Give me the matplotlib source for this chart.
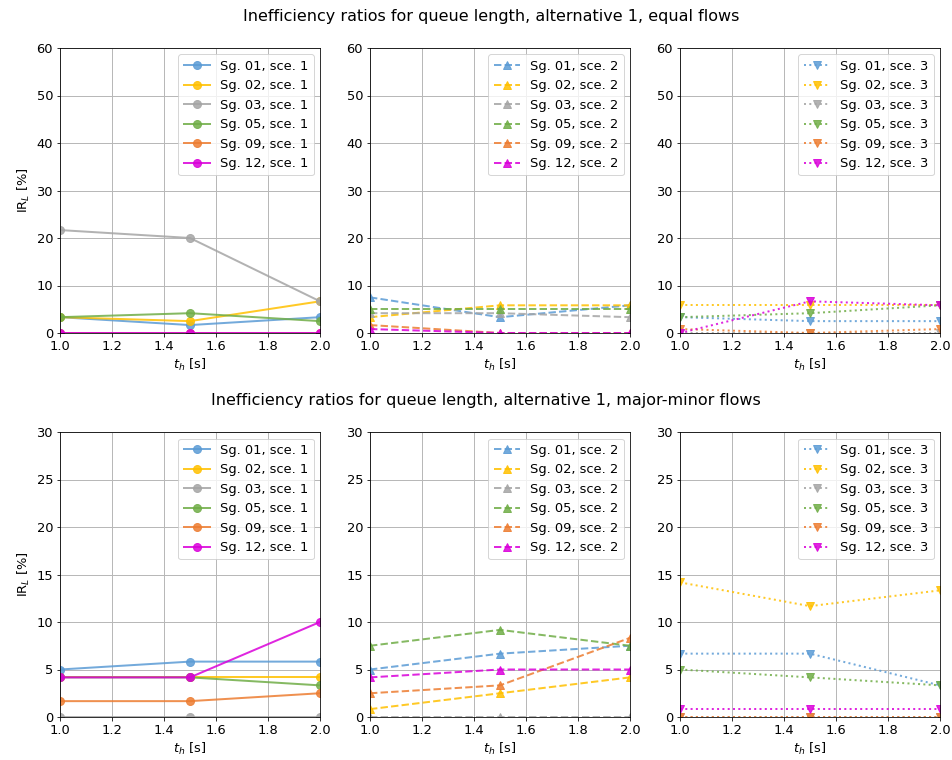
import matplotlib
matplotlib.use("Agg")
import matplotlib.pyplot as plt
import numpy as np

DPI = 72
W, H = 952, 760

th = [1.0, 1.5, 2.0]
signal_groups = ["01", "02", "03", "05", "09", "12"]
colors = ["#5B9BD5", "#FFC000", "#A5A5A5", "#70AD47", "#ED7D31", "#DA00DA"]

# equal flows, IR_L [%] per signal group (rows) at t_h = 1.0, 1.5, 2.0
equal_sce1 = [[3.33, 1.67, 3.33],
              [3.33, 2.5, 6.67],
              [21.67, 20.0, 6.67],
              [3.33, 4.17, 2.5],
              [0.0, 0.0, 0.0],
              [0.0, 0.0, 0.0]]
equal_sce2 = [[7.5, 3.33, 5.83],
              [3.33, 5.83, 5.83],
              [4.17, 4.17, 3.33],
              [5.0, 5.0, 5.0],
              [1.67, 0.0, 0.0],
              [0.83, 0.0, 0.0]]
equal_sce3 = [[3.33, 2.5, 2.5],
              [5.83, 5.83, 5.83],
              [0.0, 0.0, 0.0],
              [3.33, 4.17, 5.83],
              [0.83, 0.0, 0.83],
              [0.0, 6.67, 5.83]]

# major-minor flows
major_sce1 = [[5.0, 5.83, 5.83],
              [4.17, 4.17, 4.17],
              [0.0, 0.0, 0.0],
              [4.17, 4.17, 3.33],
              [1.67, 1.67, 2.5],
              [4.17, 4.17, 10.0]]
major_sce2 = [[5.0, 6.67, 7.5],
              [0.83, 2.5, 4.17],
              [0.0, 0.0, 0.0],
              [7.5, 9.17, 7.5],
              [2.5, 3.33, 8.33],
              [4.17, 5.0, 5.0]]
major_sce3 = [[6.67, 6.67, 3.33],
              [14.17, 11.67, 13.33],
              [0.0, 0.0, 0.0],
              [5.0, 4.17, 3.33],
              [0.0, 0.0, 0.0],
              [0.83, 0.83, 0.83]]

STYLES = {1: ("-", "o"), 2: ("--", "^"), 3: (":", "v")}

plt.rcParams["font.size"] = 13


def add_ax(fig, left, top, right, bottom):
    return fig.add_axes([left / W, 1 - bottom / H, (right - left) / W, (bottom - top) / H])


def draw(ax, data, sce, ymax, ystep, ylabel):
    ls, mk = STYLES[sce]
    for sg, c, y in zip(signal_groups, colors, data):
        ax.plot(th, y, linestyle=ls, marker=mk, color=c, lw=2, ms=8, alpha=0.85,
                label="Sg. {}, sce. {}".format(sg, sce))
    ax.set_xlim(1.0, 2.0)
    ax.set_ylim(0, ymax)
    ax.set_xticks(np.arange(1.0, 2.01, 0.2))
    ax.set_yticks(np.arange(0, ymax + 0.1, ystep))
    ax.grid(True, color="#b8b8b8", lw=1)
    ax.set_xlabel("$t_h$ [s]")
    if ylabel:
        ax.set_ylabel("IR$_L$ [%]")
    ax.legend(loc="upper right")


fig = plt.figure(figsize=(W / DPI, H / DPI), dpi=DPI)

cols = [(60, 320), (370, 630), (680, 940)]
rows = [(48, 333, 60, 10, [equal_sce1, equal_sce2, equal_sce3]),
        (432, 717, 30, 5, [major_sce1, major_sce2, major_sce3])]

for top, bottom, ymax, ystep, sets in rows:
    for i, ((l, r), data) in enumerate(zip(cols, sets)):
        ax = add_ax(fig, l, top, r, bottom)
        draw(ax, data, i + 1, ymax, ystep, i == 0)

fig.text(491 / W, 1 - 17 / H, "Inefficiency ratios for queue length, alternative 1, equal flows",
         ha="center", va="center", fontsize=16)
fig.text(486 / W, 1 - 400 / H, "Inefficiency ratios for queue length, alternative 1, major-minor flows",
         ha="center", va="center", fontsize=16)

fig.savefig("out.png", dpi=DPI)
